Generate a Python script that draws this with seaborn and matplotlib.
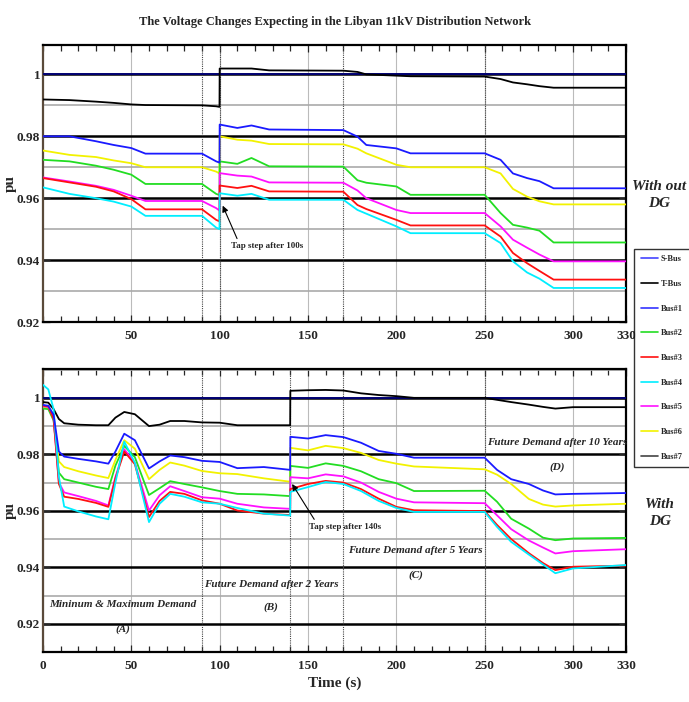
import numpy as np
import pandas as pd
import matplotlib
matplotlib.use("Agg")
import matplotlib.pyplot as plt
from matplotlib.lines import Line2D
from matplotlib.ticker import MultipleLocator, FixedLocator, FuncFormatter
import seaborn as sns

# --- DATA ---
BUSES = ["S-Bus", "T-Bus", "Bus#1", "Bus#2", "Bus#3", "Bus#4", "Bus#5", "Bus#6", "Bus#7"]

# without DG
T_TOP = [0, 15, 30, 40, 50, 58, 90, 98, 99.9, 100, 110, 118, 128, 170, 178, 183,
         200, 208, 250, 259, 266, 274, 281, 289, 330]
TOP_SBUS = [1.0] * 25
TOP_TBUS = [0.9919, 0.9917, 0.9912, 0.9908, 0.9903, 0.9901, 0.9900, 0.9897, 0.9895, 1.0019,
            1.0019, 1.0019, 1.0013, 1.0012, 1.0008, 1.0000, 0.9996, 0.9994, 0.9993, 0.9985,
            0.9974, 0.9968, 0.9962, 0.9957, 0.9957]
TOP_BUS1 = [0.980, 0.980, 0.9784, 0.9772, 0.9762, 0.9744, 0.9744, 0.9719, 0.9715, 0.9838,
            0.9827, 0.9835, 0.9822, 0.9820, 0.9799, 0.9772, 0.9761, 0.9745, 0.9745, 0.9724,
            0.968, 0.9665, 0.9655, 0.9632, 0.9632]
TOP_BUS2 = [0.9724, 0.9719, 0.9705, 0.9692, 0.9676, 0.9646, 0.9646, 0.9614, 0.961, 0.9719,
            0.9711, 0.973, 0.9703, 0.9702, 0.9658, 0.9650, 0.9638, 0.9611, 0.9611, 0.9552,
            0.9514, 0.9505, 0.9495, 0.9457, 0.9457]
TOP_BUS3 = [0.9665, 0.9651, 0.9637, 0.9622, 0.9597, 0.9564, 0.9564, 0.953, 0.9525, 0.9641,
            0.9633, 0.9640, 0.9622, 0.9621, 0.9578, 0.9565, 0.953, 0.9512, 0.9512, 0.9476,
            0.9423, 0.939, 0.9365, 0.9337, 0.9337]
TOP_BUS4 = [0.9635, 0.9614, 0.960, 0.9589, 0.9573, 0.9543, 0.9543, 0.9505, 0.950, 0.9616,
            0.9608, 0.9614, 0.9595, 0.9595, 0.9562, 0.955, 0.9509, 0.9487, 0.9487, 0.9455,
            0.9396, 0.936, 0.934, 0.931, 0.931]
TOP_BUS5 = [0.9667, 0.9654, 0.964, 0.9627, 0.9608, 0.9591, 0.9591, 0.9568, 0.956, 0.9681,
            0.9673, 0.967, 0.9651, 0.965, 0.9625, 0.960, 0.9562, 0.9552, 0.9552, 0.9509,
            0.9466, 0.9440, 0.9418, 0.9396, 0.9396]
TOP_BUS6 = [0.9754, 0.974, 0.9733, 0.9722, 0.9713, 0.970, 0.970, 0.9686, 0.968, 0.980,
            0.9789, 0.9786, 0.9775, 0.9774, 0.9760, 0.9745, 0.9708, 0.970, 0.970, 0.968,
            0.963, 0.9605, 0.959, 0.958, 0.958]

# with DG
T_BOT = [0, 3, 6, 9, 12, 20, 30, 37, 41, 46, 52, 60, 66, 72, 80, 90, 100, 110, 125,
         139.9, 140, 150, 160, 170, 180, 190, 200, 210, 250, 257, 265, 275, 283, 290, 300, 330]
BOT_SBUS = [1.0] * 36
BOT_TBUS = [0.9985, 0.9983, 0.996, 0.9925, 0.991, 0.9905, 0.9903, 0.9903, 0.993, 0.995,
            0.9942, 0.990, 0.9905, 0.9918, 0.9918, 0.9913, 0.9912, 0.9903, 0.9903, 0.9903,
            1.0025, 1.0027, 1.0028, 1.0026, 1.0016, 1.001, 1.0006, 1.0, 1.0, 0.9993,
            0.9985, 0.9976, 0.9968, 0.9962, 0.9967, 0.9967]
BOT_BUS1 = [0.9975, 0.9972, 0.994, 0.981, 0.9792, 0.9784, 0.9775, 0.9767, 0.981, 0.9873,
            0.985, 0.975, 0.9775, 0.9796, 0.979, 0.9777, 0.9773, 0.9751, 0.9755, 0.9745,
            0.9862, 0.9856, 0.9868, 0.9861, 0.9841, 0.9812, 0.9802, 0.9788, 0.9788, 0.9745,
            0.9712, 0.9695, 0.9672, 0.9658, 0.966, 0.9663]
BOT_BUS2 = [0.9962, 0.996, 0.992, 0.9735, 0.9712, 0.970, 0.9685, 0.9677, 0.976, 0.983,
            0.979, 0.9656, 0.968, 0.9705, 0.9695, 0.9683, 0.967, 0.966, 0.9658, 0.9652,
            0.9759, 0.9752, 0.9768, 0.9759, 0.974, 0.9712, 0.9698, 0.967, 0.9671, 0.9632,
            0.9572, 0.9537, 0.9505, 0.9496, 0.9502, 0.9504]
BOT_BUS3 = [0.9972, 0.997, 0.9925, 0.9695, 0.965, 0.9642, 0.9628, 0.9614, 0.9715, 0.981,
            0.9765, 0.9578, 0.9635, 0.9667, 0.966, 0.9637, 0.9625, 0.9601, 0.959, 0.9585,
            0.9677, 0.9695, 0.9706, 0.970, 0.9677, 0.9643, 0.9614, 0.9602, 0.9599, 0.955,
            0.950, 0.945, 0.9415, 0.939, 0.9402, 0.9406]
BOT_BUS4 = [1.0046, 1.003, 0.996, 0.972, 0.9615, 0.9598, 0.958, 0.957, 0.970, 0.9845,
            0.977, 0.956, 0.9625, 0.966, 0.965, 0.963, 0.9625, 0.961, 0.959, 0.9583,
            0.9667, 0.9684, 0.9702, 0.9695, 0.967, 0.9635, 0.961, 0.9596, 0.9596, 0.9543,
            0.949, 0.9445, 0.941, 0.9379, 0.9396, 0.9408]
BOT_BUS5 = [0.997, 0.9968, 0.993, 0.970, 0.9665, 0.9652, 0.9635, 0.9619, 0.972, 0.9818,
            0.977, 0.9601, 0.9655, 0.9687, 0.967, 0.9648, 0.9643, 0.9625, 0.9612, 0.9607,
            0.9719, 0.9715, 0.9729, 0.9722, 0.970, 0.9667, 0.9643, 0.963, 0.9627, 0.9584,
            0.9535, 0.9495, 0.947, 0.9449, 0.9457, 0.9464]
BOT_BUS6 = [0.9968, 0.9965, 0.993, 0.9775, 0.9755, 0.974, 0.9725, 0.9716, 0.978, 0.985,
            0.982, 0.9712, 0.9745, 0.9771, 0.976, 0.9741, 0.9733, 0.973, 0.9715, 0.9703,
            0.9823, 0.9814, 0.983, 0.9822, 0.9805, 0.978, 0.9767, 0.9757, 0.9747, 0.9728,
            0.9695, 0.9642, 0.9622, 0.9615, 0.9619, 0.9625]

TOP_EVENTS = [90, 100, 170, 250]
BOT_EVENTS = [90, 140, 170, 250]

PLOT_COLORS = {"S-Bus": "#00007a", "T-Bus": "black", "Bus#1": "#1a1aff", "Bus#2": "#22dd22",
               "Bus#3": "#ff1010", "Bus#4": "#00eeff", "Bus#5": "#ff10ff", "Bus#6": "#f2f200",
               "Bus#7": "#444444"}
LEG_COLORS = dict(PLOT_COLORS, **{"S-Bus": "#4444ff", "Bus#1": "#3333ff"})


def long_df(t, series):
    rows = []
    for name, vals in series.items():
        rows.append(pd.DataFrame({"t": t, "v": vals, "bus": name}))
    return pd.concat(rows, ignore_index=True)


df_top = long_df(T_TOP, {"S-Bus": TOP_SBUS, "T-Bus": TOP_TBUS, "Bus#6": TOP_BUS6,
                         "Bus#2": TOP_BUS2, "Bus#5": TOP_BUS5, "Bus#3": TOP_BUS3,
                         "Bus#4": TOP_BUS4, "Bus#1": TOP_BUS1})
df_bot = long_df(T_BOT, {"S-Bus": BOT_SBUS, "T-Bus": BOT_TBUS, "Bus#6": BOT_BUS6,
                         "Bus#2": BOT_BUS2, "Bus#5": BOT_BUS5, "Bus#3": BOT_BUS3,
                         "Bus#4": BOT_BUS4, "Bus#1": BOT_BUS1})

sns.set_style("white")
plt.rcParams["font.family"] = ["Liberation Serif", "DejaVu Serif"]
plt.rcParams["font.weight"] = "bold"

fig = plt.figure(figsize=(6.89, 7.02), dpi=100)
ax1 = fig.add_axes([0.0624, 0.5413, 0.8462, 0.3946])
ax2 = fig.add_axes([0.0624, 0.0712, 0.8462, 0.4031])


def style_axis(ax, ylim, events, zero_label):
    ax.set_xlim(0, 330)
    ax.set_ylim(*ylim)
    ax.yaxis.set_major_locator(MultipleLocator(0.02))
    ax.yaxis.set_minor_locator(MultipleLocator(0.01))
    ax.yaxis.set_major_formatter(FuncFormatter(lambda v, p: "1" if abs(v - 1) < 1e-9 else f"{v:.2f}"))
    ticks = ([0] if zero_label else []) + [50, 100, 150, 200, 250, 300, 330]
    ax.xaxis.set_major_locator(FixedLocator(ticks))
    ax.xaxis.set_minor_locator(MultipleLocator(10))
    ax.grid(which="major", axis="y", color="black", lw=1.8)
    ax.grid(which="minor", axis="y", color="#aaaaaa", lw=1.2)
    ax.grid(which="major", axis="x", color="#bbbbbb", lw=0.8)
    for ev in events:
        ax.axvline(ev, color="#444444", lw=0.8, ls=(0, (1, 1)), zorder=1)
    ax.set_axisbelow(True)
    ax.tick_params(which="both", direction="in", top=True, bottom=True, left=True, right=True,
                   labelsize=9.5, width=0.9)
    ax.tick_params(which="major", length=5)
    ax.tick_params(axis="x", which="major", pad=6)
    ax.tick_params(axis="y", which="major", pad=2)
    ax.tick_params(which="minor", length=4)
    ax.tick_params(axis="y", which="minor", length=0)
    for s in ax.spines.values():
        s.set_linewidth(1.6)
        s.set_color("black")
    ax.spines["left"].set_color("#5a4a3a")
    ax.set_ylabel("pu", fontsize=11, fontweight="bold")
    ax.yaxis.set_label_coords(-0.045, 0.5)


for ax, d in [(ax1, df_top), (ax2, df_bot)]:
    sns.lineplot(data=d, x="t", y="v", hue="bus", palette=PLOT_COLORS, estimator=None,
                 lw=1.3, legend=False, ax=ax, zorder=3)

style_axis(ax1, (0.92, 1.0095), TOP_EVENTS, False)
style_axis(ax2, (0.91, 1.0102), BOT_EVENTS, True)
ax1.set_xlabel("")
ax2.set_xlabel("Time (s)", fontsize=11, fontweight="bold", labelpad=3)

fig.text(0.486, 0.969, "The Voltage Changes Expecting in the Libyan 11kV Distribution Network",
         ha="center", va="center", fontsize=9, fontweight="bold")

arrow = dict(arrowstyle="-|>", color="black", lw=0.8, mutation_scale=9, shrinkA=0, shrinkB=0)
ax1.annotate("Tap step after 100s", xy=(101.7, 0.9576), xytext=(127, 0.9446),
             ha="center", va="center", fontsize=6.5, arrowprops=dict(arrow, relpos=(0.1, 1)))
ax2.annotate("Tap step after 140s", xy=(141, 0.9695), xytext=(171, 0.9544),
             ha="center", va="center", fontsize=6.5, arrowprops=dict(arrow, relpos=(0.1, 1)))

it = dict(ha="center", va="center", fontsize=8, style="italic", fontweight="bold")
ax2.text(291, 0.9841, "Future Demand after 10 Years", **it)
ax2.text(291, 0.9753, "(D)", **it)
ax2.text(211, 0.946, "Future Demand after 5 Years", **it)
ax2.text(211, 0.9373, "(C)", **it)
ax2.text(129, 0.9338, "Future Demand after 2 Years", **it)
ax2.text(129, 0.926, "(B)", **it)
ax2.text(45, 0.9268, "Mininum & Maximum Demand", **it)
ax2.text(45, 0.918, "(A)", **it)

side = dict(ha="center", va="center", fontsize=11, style="italic", fontweight="bold",
            linespacing=1.35)
fig.text(0.957, 0.722, "With out\nDG", **side)
fig.text(0.958, 0.269, "With\nDG", **side)

handles = [Line2D([], [], color=LEG_COLORS[b], lw=1.2) for b in BUSES]
leg = fig.legend(handles, BUSES, loc="center left", bbox_to_anchor=(0.92, 0.49),
                 fontsize=6, frameon=True, fancybox=False, edgecolor="black",
                 labelspacing=2.0, handlelength=2.1, handletextpad=0.35,
                 borderpad=0.8, borderaxespad=0)
leg.get_frame().set_linewidth(1.0)

fig.savefig("out.png", dpi=100)
